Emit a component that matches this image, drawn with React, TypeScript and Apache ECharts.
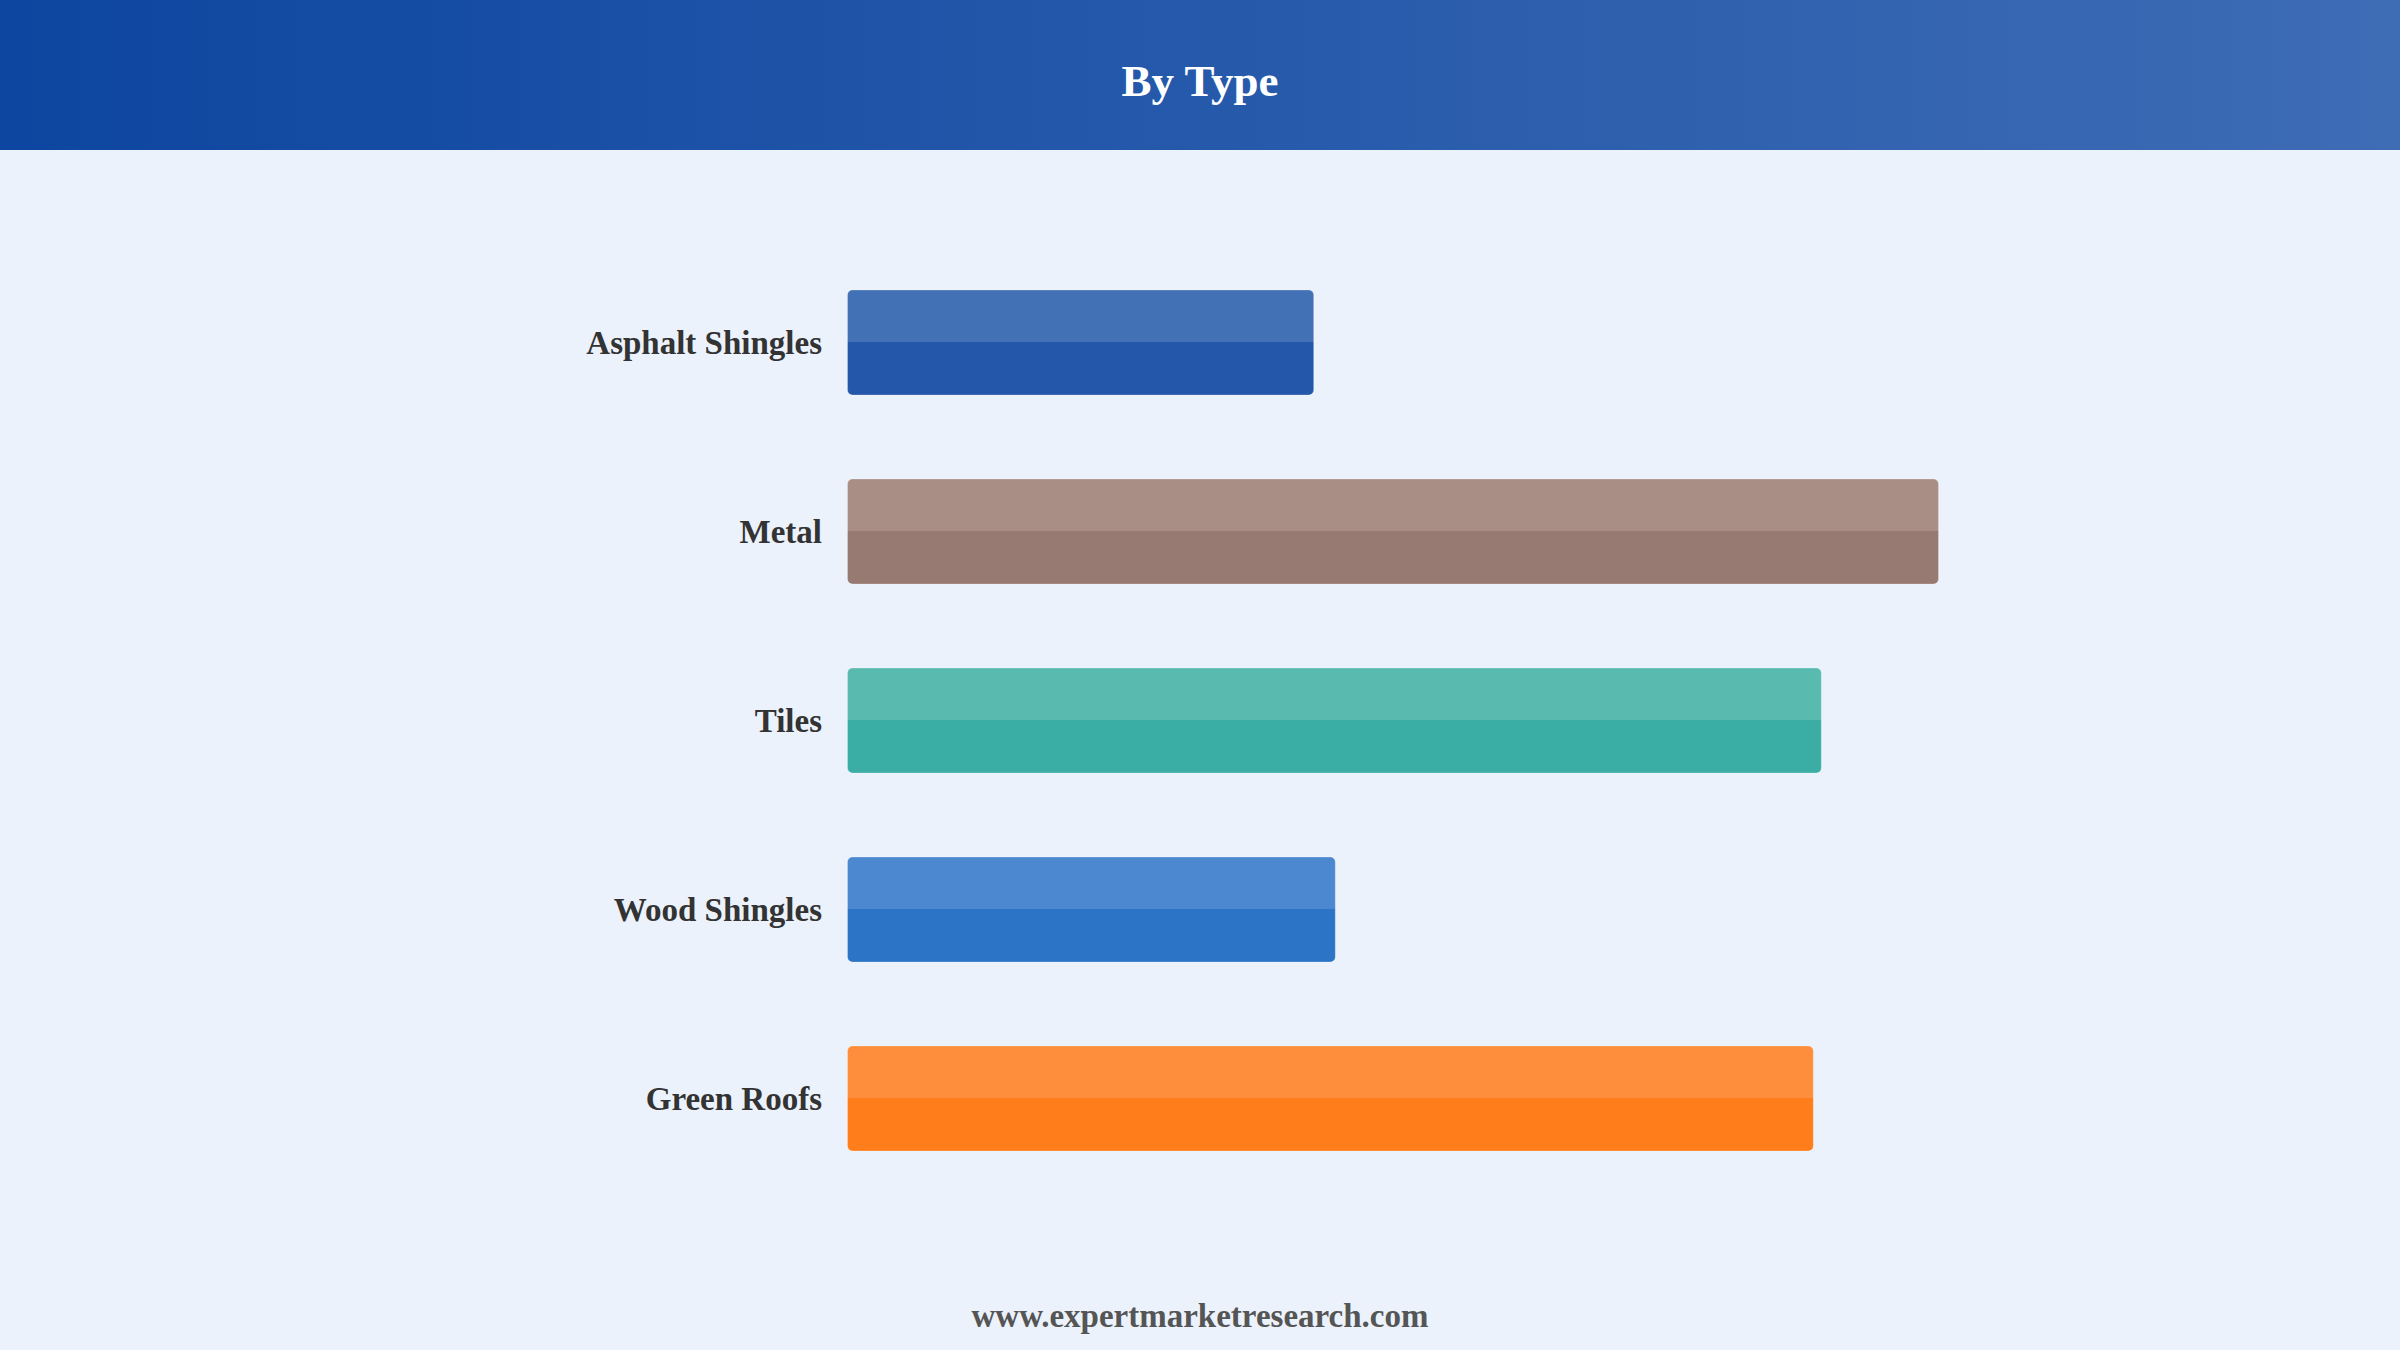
import React, { useEffect, useRef } from "react";
import * as echarts from "echarts";

const categories = ["Asphalt Shingles", "Metal", "Tiles", "Wood Shingles", "Green Roofs"];
const values = [11.68, 27.3, 24.37, 12.22, 24.17];
const topColors = ["#4271B5", "#A88E85", "#59BAB0", "#4C88CF", "#FF8E3C"];
const baseColors = ["#2457A9", "#977A71", "#3AAEA4", "#2B74C6", "#FF7D1B"];

const FONT = "'Times New Roman', 'Liberation Serif', serif";

export default function App() {
  const ref = useRef<HTMLDivElement>(null);

  useEffect(() => {
    document.body.style.margin = "0";
    if (!ref.current) return;
    const chart = echarts.init(ref.current, undefined, { renderer: "svg" });
    chart.setOption({
      animation: false,
      backgroundColor: "#EBF2FC",
      graphic: [
        {
          type: "rect",
          left: 0,
          top: 0,
          z: -1,
          shape: { x: 0, y: 0, width: 2400, height: 150 },
          style: {
            fill: new echarts.graphic.LinearGradient(0, 0, 1, 0, [
              { offset: 0, color: "#0D46A0" },
              { offset: 1, color: "#3E6CB5" },
            ]),
          },
        },
        {
          type: "text",
          x: 1200,
          y: 81,
          style: {
            text: "By Type",
            fill: "#FFFFFF",
            font: `bold 45px ${FONT}`,
            align: "center",
            verticalAlign: "middle",
          },
        },
        {
          type: "text",
          x: 1200,
          y: 1316,
          style: {
            text: "www.expertmarketresearch.com",
            fill: "#555555",
            font: `bold 33px ${FONT}`,
            align: "center",
            verticalAlign: "middle",
          },
        },
      ],
      grid: { left: 847, width: 1200, top: 248, height: 945 },
      xAxis: { type: "value", min: 0, max: 30, show: false },
      yAxis: {
        type: "category",
        data: categories,
        inverse: true,
        axisLine: { show: false },
        axisTick: { show: false },
        splitLine: { show: false },
        axisLabel: {
          margin: 25,
          color: "#333333",
          fontFamily: FONT,
          fontWeight: "bold",
          fontSize: 33,
        },
      },
      series: [
        {
          type: "bar",
          barWidth: 106,
          data: values.map((v, i) => ({
            value: v,
            itemStyle: {
              color: new echarts.graphic.LinearGradient(0, 0, 0, 1, [
                { offset: 0, color: topColors[i] },
                { offset: 0.5, color: topColors[i] },
                { offset: 0.5, color: baseColors[i] },
                { offset: 1, color: baseColors[i] },
              ]),
              borderRadius: 5,
              borderColor: "rgba(255,255,255,0.25)",
              borderWidth: 1,
            },
          })),
        },
      ],
    });
    return () => chart.dispose();
  }, []);

  return (
    <div
      ref={ref}
      style={{ position: "fixed", left: 0, top: 0, width: 2400, height: 1350 }}
    />
  );
}
